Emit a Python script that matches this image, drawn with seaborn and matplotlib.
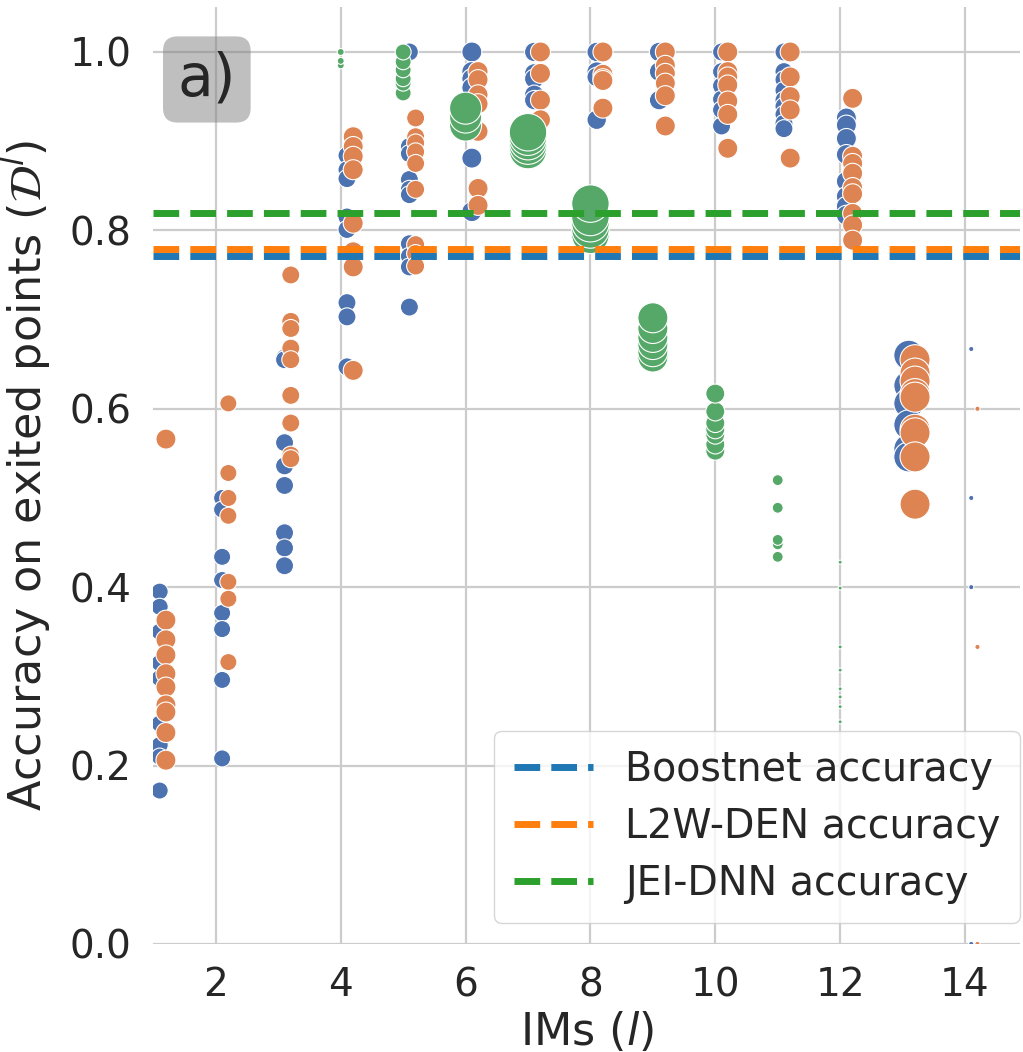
import numpy as np
import pandas as pd
import matplotlib
matplotlib.use("Agg")
from matplotlib import pyplot as plt
import seaborn as sns

# accuracy on exited points, per IM (l), one value per run
boostnet_acc = {
    1: [0.395, 0.378, 0.350, 0.315, 0.298, 0.247, 0.223, 0.210, 0.172],
    2: [0.500, 0.487, 0.434, 0.408, 0.371, 0.353, 0.296, 0.208],
    3: [0.657, 0.655, 0.562, 0.536, 0.514, 0.461, 0.444, 0.424],
    4: [0.884, 0.868, 0.858, 0.815, 0.801, 0.719, 0.703, 0.647],
    5: [1.0, 0.894, 0.886, 0.857, 0.846, 0.840, 0.785, 0.771, 0.759, 0.714],
    6: [1.0, 0.978, 0.970, 0.960, 0.881, 0.821],
    7: [1.0, 0.976, 0.970, 0.952, 0.946],
    8: [1.0, 0.978, 0.972, 0.924],
    9: [1.0, 0.978, 0.946],
    10: [1.0, 0.978, 0.962, 0.947, 0.935, 0.917],
    11: [1.0, 0.978, 0.969, 0.957, 0.946, 0.939, 0.930, 0.920, 0.914],
    12: [0.926, 0.918, 0.903, 0.885, 0.855, 0.838, 0.827, 0.817],
    13: [0.660, 0.626, 0.606, 0.582, 0.555, 0.546],
    14: [0.667, 0.500, 0.400, 0.0],
}
l2w_acc = {
    1: [0.566, 0.363, 0.341, 0.324, 0.303, 0.288, 0.268, 0.260, 0.237, 0.206],
    2: [0.606, 0.528, 0.500, 0.480, 0.406, 0.387, 0.316],
    3: [0.750, 0.698, 0.690, 0.668, 0.655, 0.615, 0.584, 0.548, 0.544],
    4: [0.905, 0.894, 0.883, 0.868, 0.808, 0.776, 0.759, 0.643],
    5: [0.926, 0.905, 0.898, 0.888, 0.875, 0.846, 0.784, 0.774, 0.760],
    6: [0.978, 0.969, 0.952, 0.942, 0.911, 0.847, 0.828],
    7: [1.0, 0.976, 0.946, 0.924],
    8: [1.0, 0.975, 0.970, 0.968, 0.937],
    9: [1.0, 0.985, 0.976, 0.965, 0.951, 0.917],
    10: [1.0, 0.978, 0.972, 0.963, 0.945, 0.930, 0.892],
    11: [1.0, 0.972, 0.950, 0.935, 0.881],
    12: [0.948, 0.883, 0.875, 0.864, 0.848, 0.841, 0.819, 0.806, 0.789],
    13: [0.655, 0.640, 0.631, 0.617, 0.613, 0.577, 0.573, 0.546, 0.493],
    14: [0.600, 0.333, 0.0],
}
jei_acc = {
    4: [0.985, 0.990, 1.0],
    5: [0.954, 0.965, 0.970, 0.980, 0.989, 1.0],
    6: [0.918, 0.927, 0.937],
    7: [0.890, 0.895, 0.900, 0.905, 0.910],
    8: [0.795, 0.801, 0.808, 0.815, 0.830],
    9: [0.658, 0.664, 0.672, 0.680, 0.690, 0.702],
    10: [0.553, 0.560, 0.571, 0.577, 0.584, 0.597, 0.617],
    11: [0.434, 0.448, 0.453, 0.489, 0.520],
    12: [0.249, 0.266, 0.277, 0.286, 0.307, 0.333, 0.399, 0.428],
}

# fraction of samples exiting at each IM (marker size)
boostnet_frac = [0.054, 0.054, 0.06, 0.06, 0.06, 0.074, 0.07, 0.07, 0.07, 0.06, 0.06, 0.074, 0.167, 0.005]
l2w_frac = [0.074, 0.054, 0.06, 0.074, 0.06, 0.074, 0.074, 0.074, 0.074, 0.074, 0.074, 0.074, 0.167, 0.005]
jei_frac = {4: 0.009, 5: 0.047, 6: 0.19, 7: 0.26, 8: 0.26, 9: 0.167, 10: 0.067, 11: 0.022, 12: 0.003}

# overall accuracies (dashed lines)
overall_acc = {"Boostnet": 0.771, "L2W-DEN": 0.779, "JEI-DNN": 0.820}

rows = []
for l, vals in boostnet_acc.items():
    for v in vals:
        rows.append(("Boostnet", l + 0.1, v, boostnet_frac[l - 1]))
for l, vals in l2w_acc.items():
    for v in vals:
        rows.append(("L2W-DEN", l + 0.2, v, l2w_frac[l - 1]))
for l, vals in jei_acc.items():
    for v in vals:
        rows.append(("JEI-DNN", l, v, jei_frac[l]))
df = pd.DataFrame(rows, columns=["method", "im", "acc", "frac"])

sns.set_theme(style="whitegrid")
plt.rcParams["font.family"] = ["DejaVu Sans"]
plt.rcParams["grid.linewidth"] = 1.6
plt.rcParams["grid.color"] = "#cccccc"

fig, ax = plt.subplots(figsize=(10.23, 10.52), dpi=100)
fig.subplots_adjust(left=0.150, right=0.997, top=0.993, bottom=0.1027)

point_colors = {"Boostnet": "#4C72B0", "L2W-DEN": "#DD8452", "JEI-DNN": "#55A868"}
sns.scatterplot(data=df, x="im", y="acc", hue="method", palette=point_colors,
                size="frac", sizes=(0, 2800), size_norm=(0, 1),
                edgecolor="white", linewidth=0.8, legend=False, ax=ax)

line_colors = ["#1f77b4", "#ff7f0e", "#2ca02c"]
for (name, acc), c in zip(overall_acc.items(), line_colors):
    ax.axhline(acc, color=c, linestyle="--", linewidth=5, label=f"{name} accuracy")

ax.set_xlim(1, 14.88)
ax.set_ylim(0, 1.05)
ax.set_xticks(range(2, 15, 2))
ax.set_yticks(np.arange(0, 1.01, 0.2))
ax.tick_params(axis="both", labelsize=28, length=0, pad=16)
ax.set_xlabel("IMs ($l$)", fontsize=32, labelpad=4)
ax.set_ylabel(r"Accuracy on exited points ($\mathcal{D}^l$)", fontsize=32, labelpad=12)
for s in ax.spines.values():
    s.set_visible(False)

ax.legend(loc="lower right", fontsize=28.5, frameon=True, borderaxespad=0,
          bbox_to_anchor=(1.0, 0.022), handletextpad=0.8, borderpad=0.5,
          labelspacing=0.42)

ax.text(0.0616, 0.923, "a)", transform=ax.transAxes, fontsize=42,
        ha="center", va="center",
        bbox=dict(boxstyle="round,pad=0.25", facecolor="grey", alpha=0.5, edgecolor="none"))

fig.savefig("out.png", dpi=100)
